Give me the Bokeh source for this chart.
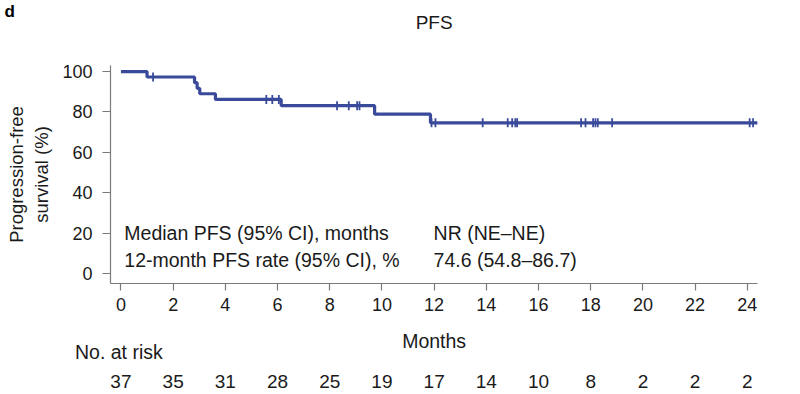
import numpy as np
from bokeh.plotting import figure
from bokeh.layouts import column
from bokeh.models import Range1d, FixedTicker, Label, ColumnDataSource
from bokeh.core.properties import value
from bokeh.embed import file_html
from bokeh.resources import INLINE

# ---- data ----
event_times = [0, 1.0, 2.82, 2.92, 3.02, 3.62, 6.14, 9.72, 11.86, 24.4]
survival = [100, 97.3, 94.5, 91.7, 89.0, 86.2, 83.1, 78.9, 74.6, 74.6]
censor_times = [1.23, 5.57, 5.80, 6.05, 8.28, 8.73, 9.05, 9.14, 11.9, 12.05,
                13.86, 14.82, 14.99, 15.11, 15.18, 17.63, 17.80, 18.09, 18.18,
                18.27, 18.82, 24.09, 24.22]
risk_months = [0, 2, 4, 6, 8, 10, 12, 14, 16, 18, 20, 22, 24]
at_risk = [37, 35, 31, 28, 25, 19, 17, 14, 10, 8, 2, 2, 2]
y_ticks = [0, 20, 40, 60, 80, 100]
stat_names = ["Median PFS (95% CI), months", "12-month PFS rate (95% CI), %"]
stat_values = ["NR (NE\u2013NE)", "74.6 (54.8\u201386.7)"]

FONT = "Liberation Sans"
TXT = "#1a1a1a"
BLUE = "#3a4a9b"
AX = "#7a7a7a"

# ---- layout constants (pixels) ----
W = 800
TOP_H, MAIN_H, BOT_H = 36, 283, 75
FR_L, FR_R = 110, 757          # frame left/right in page pixels
X0, X1 = -0.40, 24.39          # data range of the frame
PXM = (FR_R - FR_L) / (X1 - X0)
full_x = Range1d(X0 - FR_L / PXM, X1 + (W - FR_R) / PXM)


def no_align(f):
    try:
        f.frame_align = False
    except Exception:
        pass


def strip(h):
    f = figure(width=W, height=h, output_backend="svg", toolbar_location=None,
               x_range=full_x, y_range=Range1d(0, h), x_axis_type=None,
               y_axis_type=None, min_border=0, title=None)
    f.outline_line_color = None
    f.grid.visible = False
    f.border_fill_color = "white"
    f.background_fill_color = "white"
    no_align(f)
    return f


# ---- top strip: panel letter and title ----
top = strip(TOP_H)
top.text(x=[12], y=[TOP_H - 22], text=["PFS"], text_font=value(FONT),
         text_font_size="19px", text_color=TXT, text_align="center",
         text_baseline="middle")
top.text(x=[-4.46], y=[TOP_H - 11], text=["d"], text_font=value(FONT),
         text_font_size="17px", text_font_style="bold", text_color="black",
         text_align="left", text_baseline="middle")

# ---- main KM plot ----
p = figure(width=W, height=MAIN_H, output_backend="svg", toolbar_location=None,
           x_range=Range1d(X0, X1), y_range=Range1d(-5.0, 103.0),
           min_border_left=FR_L, min_border_right=W - FR_R, min_border_top=29,
           min_border_bottom=36, title=None)
p.outline_line_color = None
p.grid.visible = False
p.background_fill_color = "white"
p.border_fill_color = "white"
no_align(p)

p.step(event_times, survival, mode="after", line_color=BLUE, line_width=3.2)

et = np.array(event_times)
sv = np.array(survival)
idx = np.searchsorted(et, np.array(censor_times), side="right") - 1
p.scatter(censor_times, sv[idx].tolist(), marker="dash", angle=np.pi / 2,
          size=9, line_color=BLUE, line_width=1.8)

p.xaxis.ticker = FixedTicker(ticks=risk_months)
p.yaxis.ticker = FixedTicker(ticks=y_ticks)
for ax in (p.xaxis[0], p.yaxis[0]):
    ax.axis_line_color = AX
    ax.axis_line_width = 1.2
    ax.major_tick_line_color = AX
    ax.major_tick_line_width = 1.2
    ax.major_tick_in = 0
    ax.minor_tick_out = 0
    ax.minor_tick_in = 0
    ax.major_label_text_font = FONT
    ax.major_label_text_font_size = "18px"
    ax.major_label_text_color = TXT
    ax.axis_label_text_font = FONT
    ax.axis_label_text_font_size = "18.5px"
    ax.axis_label_text_font_style = "normal"
    ax.axis_label_text_color = TXT
p.xaxis.major_tick_out = 7
p.yaxis.major_tick_out = 8
p.xaxis.major_label_standoff = 7
p.yaxis.major_label_standoff = 10
p.yaxis.axis_label = "Progression-free\nsurvival (%)"
p.yaxis.axis_label_standoff = 7

for i, (name, val) in enumerate(zip(stat_names, stat_values)):
    yv = [19.8, 6.4][i]
    p.add_layout(Label(x=0.13, y=yv, text=name, text_font=FONT,
                       text_font_size="19.5px", text_color=TXT,
                       text_baseline="middle"))
    p.add_layout(Label(x=11.98, y=yv, text=val, text_font=FONT,
                       text_font_size="19.5px", text_color=TXT,
                       text_baseline="middle"))

# ---- bottom strip: x title and number at risk ----
Y_TOP = TOP_H + MAIN_H
bot = strip(BOT_H)
bot.text(x=[12], y=[BOT_H - (340 - Y_TOP)], text=["Months"], text_font=value(FONT),
         text_font_size="19.5px", text_color=TXT, text_align="center",
         text_baseline="middle")
bot.text(x=[-1.76], y=[BOT_H - (351.5 - Y_TOP)], text=["No. at risk"],
         text_font=value(FONT), text_font_size="19.5px", text_color=TXT,
         text_align="left", text_baseline="middle")
risk_src = ColumnDataSource(dict(x=risk_months,
                                 y=[BOT_H - (380.5 - Y_TOP)] * len(risk_months),
                                 t=[str(v) for v in at_risk]))
bot.text(x="x", y="y", text="t", source=risk_src, text_font=value(FONT),
         text_font_size="19px", text_color=TXT, text_align="center",
         text_baseline="middle")

layout = column(top, p, bot, spacing=0)
open("out.html", "w").write(file_html(layout, INLINE))
